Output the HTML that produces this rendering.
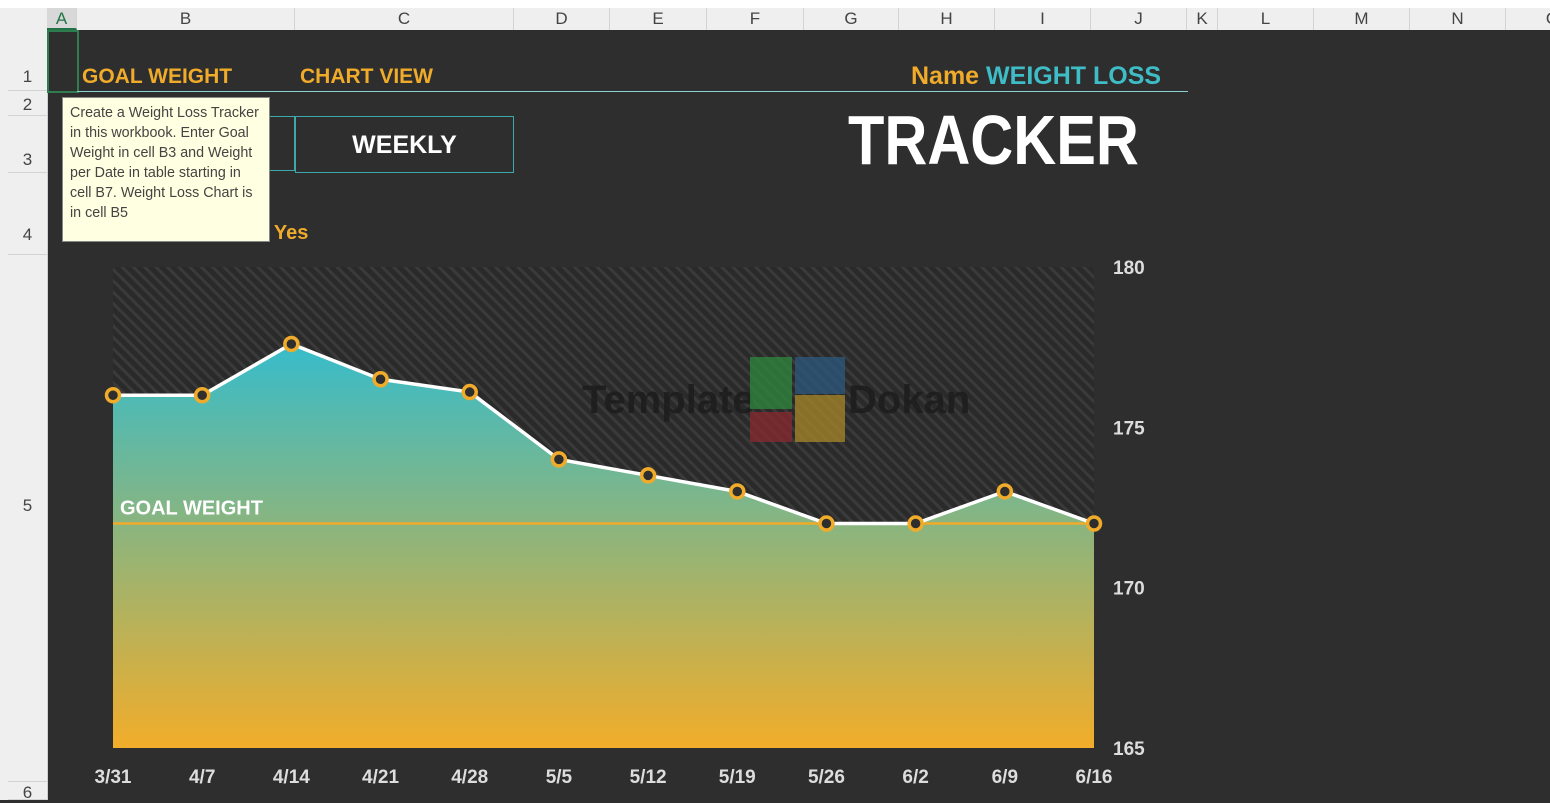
<!DOCTYPE html>
<html><head><meta charset="utf-8">
<style>
body{margin:0;width:1550px;height:800px;overflow:hidden;background:#2d2e2d;font-family:"Liberation Sans",sans-serif;position:relative}
.abs{position:absolute}
.colh{position:absolute;top:8px;height:22px;line-height:22px;text-align:center;color:#444;font-size:17px;background:#efefef;border-right:1px solid #d4d4d4;box-sizing:border-box}
.rowh{position:absolute;left:8px;width:39px;border-bottom:1px solid #d4d4d4;box-sizing:border-box}
.rowl{position:absolute;left:8px;width:39px;color:#444;font-size:17px;text-align:center;line-height:20px}
.gold{color:#f0ab2b;font-weight:bold}
.teal{color:#3fbdc7;font-weight:bold}
</style></head><body>
<div class="abs" style="left:0;top:0;width:1550px;height:8px;background:#fff"></div>
<div class="abs" style="left:0;top:8px;width:47px;height:22px;background:#efefef"></div>
<div class="abs" style="left:0;top:30px;width:47px;height:770px;background:#efefef;border-right:1px solid #cfcfcf"></div>
<div id="cols"></div><div id="rows"></div>

<div class="abs" style="left:47px;top:30px;width:28px;height:59px;border:2px solid #2f7d4f"></div>
<div class="abs gold" style="left:82px;top:65px;font-size:21px">GOAL WEIGHT</div>
<div class="abs gold" style="left:300px;top:65px;font-size:21px">CHART VIEW</div>
<div class="abs" style="left:77px;top:91px;width:1111px;height:1px;background:#8ccfcf"></div>
<div class="abs" style="left:911px;top:62px;font-size:25px;font-weight:bold"><span class="gold">Name</span> <span class="teal">WEIGHT LOSS</span></div>
<div class="abs" style="left:848px;top:100px;font-size:70px;font-weight:bold;color:#fff;transform:scaleX(0.85);transform-origin:left top">TRACKER</div>
<div class="abs" style="left:77px;top:116px;width:218px;height:55px;border:1px solid #3fa8ad;box-sizing:border-box"></div>
<div class="abs" style="left:295px;top:116px;width:219px;height:57px;border:1px solid #3fa8ad;box-sizing:border-box;color:#fff;font-weight:bold;font-size:25px;text-align:center;line-height:57px">WEEKLY</div>
<div class="abs" style="left:246px;top:222px;font-size:20px;font-weight:bold"><span class="teal" style="font-size:17px">HT</span> <span class="gold">Yes</span></div>

<svg class="abs" style="left:0;top:0" width="1550" height="800" id="chart">
<defs>
<pattern id="stripes" width="8" height="8" patternUnits="userSpaceOnUse" patternTransform="rotate(-45)">
<rect width="8" height="8" fill="#2a2a2a"/><rect width="3" height="8" fill="#3a3a3a"/></pattern>
<linearGradient id="grad" x1="0" y1="0" x2="0" y2="1">
<stop offset="0" stop-color="#36bccb"/><stop offset="0.45" stop-color="#8ab57f"/><stop offset="1" stop-color="#f2ad2a"/></linearGradient>
</defs>
<g id="g"></g>
</svg>

<div class="abs" style="left:62px;top:97px;width:208px;height:145px;background:#ffffe1;border:1px solid #888;box-sizing:border-box;padding:5px 7px;font-size:14.3px;line-height:20px;color:#444">Create a Weight Loss Tracker in this workbook. Enter Goal Weight in cell B3 and Weight per Date in table starting in cell B7. Weight Loss Chart is in cell B5</div>

<script>
const dates=["3/31","4/7","4/14","4/21","4/28","5/5","5/12","5/19","5/26","6/2","6/9","6/16"];
const weights=[176,176,177.6,176.5,176.1,174,173.5,173,172,172,173,172];
const goal=[172];
const yTicks=[165,170,175,180];
const colNames=["A","B","C","D","E","F","G","H","I","J","K","L","M","N","O"];
const colEdges=[47,77,295,514,610,707,804,899,995,1091,1187,1218,1314,1410,1506,1600];
const rowLabels=["1","2","3","4","5","6"];
const rowEdges=[30,91,116,173,255,782,800];
const rowLabelY=[67,95,150,225,496,783];

const cols=document.getElementById('cols');
colNames.forEach((c,i)=>{const d=document.createElement('div');d.className='colh';
d.style.left=colEdges[i]+'px';d.style.width=(colEdges[i+1]-colEdges[i])+'px';d.textContent=c;
if(i==0){d.style.color='#217346';d.style.background='#d8d8d8';d.style.borderBottom='2px solid #217346'}


cols.appendChild(d);});
const rows=document.getElementById('rows');
rowLabels.forEach((r,i)=>{const d=document.createElement('div');d.className='rowh';
d.style.top=rowEdges[i]+'px';d.style.height=(rowEdges[i+1]-rowEdges[i])+'px';


rows.appendChild(d);
const l=document.createElement('div');l.className='rowl';l.style.top=rowLabelY[i]+'px';l.textContent=r;


rows.appendChild(l);});

const NS='http://www.w3.org/2000/svg';
const g=document.getElementById('g');
const x0=113,x1=1094,yTop=267,yBot=748,yMin=165,yMax=180;
const X=i=>x0+(x1-x0)*i/(dates.length-1);
const Y=v=>yBot-(v-yMin)/(yMax-yMin)*(yBot-yTop);
function el(t,a){const e=document.createElementNS(NS,t);for(const k in a)e.setAttribute(k,a[k]);g.appendChild(e);return e;}
const bg=el('rect',{x:x0,y:yTop,width:x1-x0,height:yBot-yTop,fill:'url(#stripes)'});


const wm=el('text',{x:582,y:413,'font-size':40,'font-weight':'bold',fill:'#1c1c1c','opacity':0.85});wm.textContent='Template';


const wm2=el('text',{x:848,y:413,'font-size':40,'font-weight':'bold',fill:'#1c1c1c','opacity':0.85});wm2.textContent='Dokan';


[[750,357,42,52,'#2f8a3f'],[795,357,50,37,'#2d5a80'],[750,412,42,30,'#8a2a30'],[795,395,50,47,'#a8882a']].forEach(s=>{
const r=el('rect',{x:s[0],y:s[1],width:s[2],height:s[3],fill:s[4],opacity:0.75});

});
let d='M'+X(0)+','+yBot;weights.forEach((w,i)=>d+=' L'+X(i)+','+Y(w));d+=' L'+X(weights.length-1)+','+yBot+' Z';
const area=el('path',{d:d,fill:'url(#grad)'});


const gl=el('line',{x1:x0,x2:x1,y1:Y(goal[0]),y2:Y(goal[0]),stroke:'#f0ab2b','stroke-width':2.5});


const gt=el('text',{x:120,y:Y(goal[0])-9,fill:'#fff','font-size':20,'font-weight':'bold'});gt.textContent='GOAL WEIGHT';


const line=el('polyline',{points:weights.map((w,i)=>X(i)+','+Y(w)).join(' '),fill:'none',stroke:'#fff','stroke-width':3.5});


weights.forEach((w,i)=>{const c=el('circle',{cx:X(i),cy:Y(w),r:6.5,fill:'#2d2e2d',stroke:'#f0ab2b','stroke-width':3.5});

});
yTicks.forEach(t=>{const e=el('text',{x:1113,y:Y(t)+7,fill:'#ddd','font-size':19,'font-weight':'bold'});e.textContent=t;

});
dates.forEach((dt,i)=>{const e=el('text',{x:X(i),y:783,fill:'#ddd','font-size':19,'font-weight':'bold','text-anchor':'middle'});e.textContent=dt;

});
</script>
</body></html>
